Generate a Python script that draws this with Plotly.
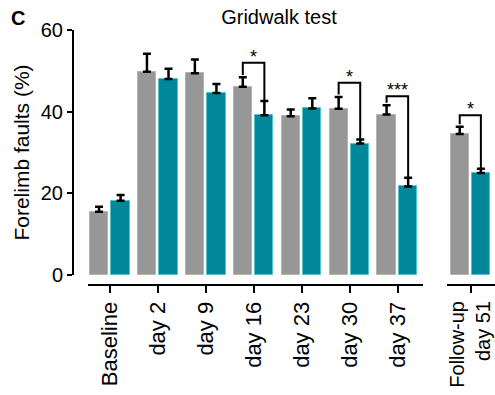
import plotly.graph_objects as go

# ---- data ----
categories = ["Baseline", "day 2", "day 9", "day 16", "day 23", "day 30", "day 37"]
gray_vals = [15.5, 49.8, 49.4, 46.1, 38.9, 40.7, 39.3]
gray_err = [1.2, 4.4, 3.4, 2.3, 1.6, 2.9, 2.3]
teal_vals = [18.2, 48.0, 44.6, 39.1, 40.8, 32.2, 21.7]
teal_err = [1.4, 2.5, 2.2, 3.5, 2.5, 1.0, 2.1]

followup_label = "Follow-up<br>day 51"
followup_gray = [34.5]
followup_gray_err = [1.8]
followup_teal = [25.0]
followup_teal_err = [1.0]

# significance: (category index, bracket height, label)
sig_main = [(3, 52.0, "*"), (5, 47.1, "*"), (6, 43.8, "***")]
sig_follow = [(0, 39.1, "*")]

y_ticks = [0, 20, 40, 60]

# ---- styling ----
GRAY = "#979797"
GRAY_EDGE = "#b4b4b4"
TEAL = "#00879a"
TEAL_EDGE = "#55c3cf"
FONT = "Liberation Sans, Arial, sans-serif"
W, H = 495, 395
G_OFF, T_OFF, BW = -0.42, 0.03, 0.38
T_MARGIN, B_MARGIN = 30, 110
plot_h = H - T_MARGIN - B_MARGIN
y_dom0 = 10 / plot_h

fig = go.Figure()

def add_pair(xs, gv, ge, tv, te, xaxis):
    fig.add_trace(go.Bar(
        x=xs, y=gv, name="Control", xaxis=xaxis, yaxis="y",
        offset=G_OFF, width=BW,
        marker=dict(color=GRAY, line=dict(color=GRAY_EDGE, width=1)),
        error_y=dict(type="data", array=ge, arrayminus=[0] * len(ge), symmetric=False,
                     color="black", thickness=2.5, width=4),
        showlegend=False, hoverinfo="skip"))
    fig.add_trace(go.Bar(
        x=xs, y=tv, name="Treatment", xaxis=xaxis, yaxis="y",
        offset=T_OFF, width=BW,
        marker=dict(color=TEAL, line=dict(color=TEAL_EDGE, width=1)),
        error_y=dict(type="data", array=te, arrayminus=[0] * len(te), symmetric=False,
                     color="black", thickness=2.5, width=4),
        showlegend=False, hoverinfo="skip"))

main_x = list(range(len(categories)))
add_pair(main_x, gray_vals, gray_err, teal_vals, teal_err, "x")
add_pair([0], followup_gray, followup_gray_err, followup_teal, followup_teal_err, "x2")

annotations = []

def add_brackets(sigs, gv, ge, tv, te, xaxis, xref):
    for idx, h, lab in sigs:
        xg = idx + G_OFF + BW / 2
        xt = idx + T_OFF + BW / 2
        fig.add_trace(go.Scatter(
            x=[xg, xg, xt, xt],
            y=[gv[idx] + ge[idx] + 0.6, h, h, te[idx] + tv[idx]],
            mode="lines", line=dict(color="black", width=2),
            xaxis=xaxis, yaxis="y", showlegend=False, hoverinfo="skip"))
        annotations.append(dict(
            x=(xg + xt) / 2, y=h, xref=xref, yref="y", text=lab, showarrow=False,
            yanchor="bottom", yshift=-6, font=dict(size=18, color="black", family=FONT)))

add_brackets(sig_main, gray_vals, gray_err, teal_vals, teal_err, "x", "x")
add_brackets(sig_follow, followup_gray, followup_gray_err, followup_teal, followup_teal_err, "x2", "x2")

# panel letter (paper y is relative to the plot area)
annotations.append(dict(x=18 / W, y=(H - B_MARGIN - 18) / plot_h, xref="paper", yref="paper",
                        text="<b>C</b>", showarrow=False, xanchor="center", yanchor="middle",
                        font=dict(size=20, color="black", family=FONT)))

axis_common = dict(
    showline=True, linecolor="black", linewidth=2,
    ticks="outside", ticklen=7, tickwidth=2, tickcolor="black",
    tickangle=-90, showgrid=False, zeroline=False, fixedrange=True,
    anchor="free", position=0, automargin=False, ticklabeloverflow="allow",
)

fig.update_layout(
    width=W, height=H,
    margin=dict(l=0, r=0, t=T_MARGIN, b=B_MARGIN),
    paper_bgcolor="white", plot_bgcolor="white",
    title=dict(text="Gridwalk test", x=279 / W, xanchor="center",
               y=1 - 17 / H, yanchor="middle",
               font=dict(size=20, color="black", family=FONT)),
    xaxis=dict(domain=[88 / W, 423 / W], range=[-0.46, 6.53],
               tickvals=main_x, ticktext=categories,
               tickfont=dict(size=22, color="black", family=FONT), **axis_common),
    xaxis2=dict(domain=[447 / W, 1.0], range=[-0.5, 0.52],
                tickvals=[0], ticktext=[followup_label],
                tickfont=dict(size=20, color="black", family=FONT), **axis_common),
    yaxis=dict(domain=[y_dom0, 1.0], range=[0, 60], anchor="free", position=73 / W,
               tickvals=y_ticks, showline=True, linecolor="black", linewidth=2,
               ticks="outside", ticklen=5, tickwidth=2, tickcolor="black",
               showgrid=False, zeroline=False, fixedrange=True, automargin=False,
               tickfont=dict(size=20, color="black", family=FONT),
               title=dict(text="Forelimb faults (%)", standoff=4,
                          font=dict(size=21, color="black", family=FONT))),
    annotations=annotations,
    bargap=0, barmode="overlay",
)

fig.write_html("out.html", config={"displayModeBar": False},
               post_script="document.body.style.margin='0';document.body.style.overflow='hidden';")
